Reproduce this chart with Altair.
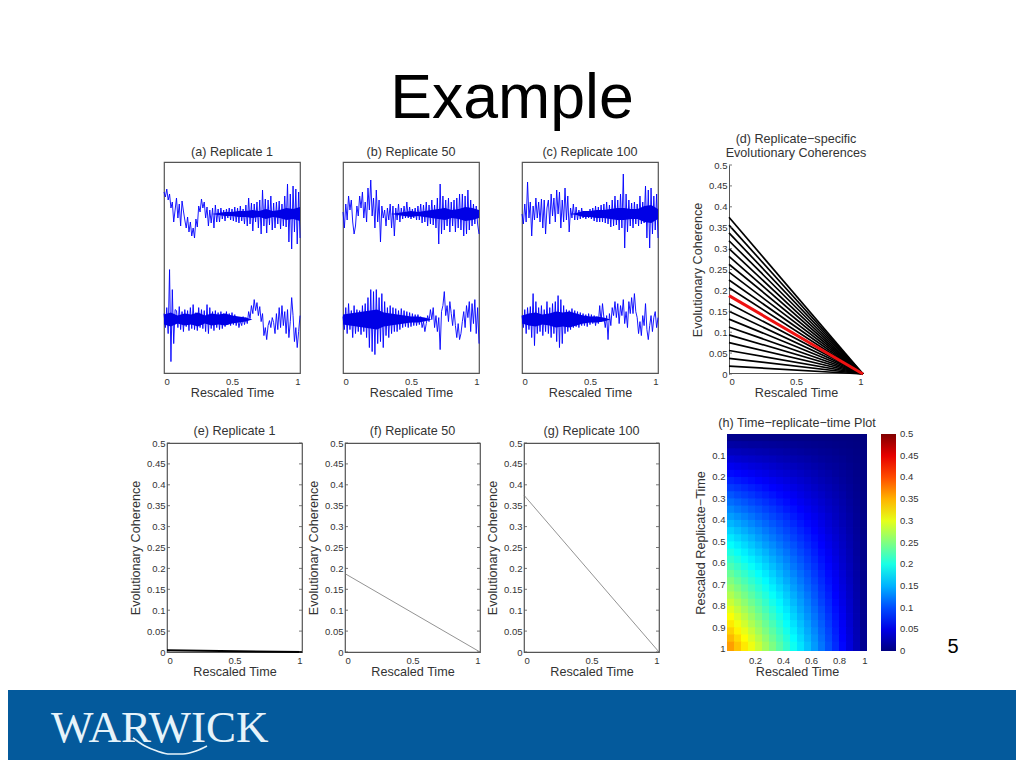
import altair as alt
import pandas as pd

FONT = "Liberation Sans"
TXT = "#333333"
FS = 12.6
TS = 9.5

a_top = [22,17,25,14,20,6,12,-8,4,
 16,-4,10,-12,13,3,-6,-14,-3,-18,
 -8,-22,-14,-24,-5,-13,8,2,15,6,
 12,-4,7,-12,4,-9,6,-14,9,-8,
 5,-8,6,-5,4,-7,5,-4,6,-6,
 5,-7,7,-8,6,-9,8,-7,5,-10,
 9,-12,16,-10,11,-17,10,-8,12,-14,
 14,-20,24,-12,15,-19,14,-11,18,-16,
 11,-14,12,-10,13,-15,10,-12,18,-13,
 30,-28,20,-35,28,-18,25,-30,22,-24]
a_bot = [6,-8,12,-14,50,-42,30,-24,10,
 9,-8,13,-10,8,-12,10,-7,9,-11,
 12,-9,15,-10,7,-11,12,-8,10,-9,
 9,-12,15,-14,12,-9,8,-11,9,-8,
 7,-10,8,-9,6,-7,8,-5,6,-6,
 7,-5,5,-6,2,-8,-1,-6,3,-5,
 2,-4,8,1,14,6,20,9,17,4,
 13,-2,6,-16,-8,-20,-6,-1,-8,2,
 -3,-14,6,-10,12,-8,14,-6,8,-14,
 10,-18,-2,22,4,-22,-8,-28,-12,4]
b_top = [2,-14,10,-6,18,4,14,-8,-20,
 -12,8,-2,18,6,22,-4,12,-8,26,
 4,34,-2,16,-14,24,-8,14,-28,8,
 -4,4,-12,6,-6,10,-14,8,-22,6,
 -6,10,-8,6,-5,8,-4,12,-4,7,
 -5,5,-4,6,-6,8,-6,10,-9,9,
 -8,12,-12,9,-10,14,-11,9,-14,16,
 -30,30,-20,18,-16,14,-12,16,-18,12,
 -12,14,-18,16,-14,20,-16,20,-22,18,
 -20,24,-16,14,-12,10,-10,8,-10,-20]
b_bot = [3,-10,12,-14,16,-10,9,-18,14,
 -14,10,-12,9,-15,14,-12,16,-18,22,
 -28,30,-32,28,-35,30,-24,22,-22,26,
 -28,18,-16,12,-18,14,-14,12,-12,11,
 -12,9,-10,11,-8,9,-7,8,-8,7,
 -7,6,-6,5,-6,5,-5,3,-8,-2,
 -12,-4,4,-2,10,0,12,-8,4,-12,
 2,-30,8,14,28,4,14,-2,18,6,
 -6,10,-6,-18,-4,-20,-14,-2,8,-8,
 14,2,18,-12,16,-4,20,-14,12,-24]
c_top = [0,-10,10,-8,32,-4,12,-22,8,
 -6,16,-4,12,-8,15,-14,14,-20,6,
 14,-10,20,-2,16,-8,24,0,22,-14,
 14,-8,26,-6,18,-18,6,-4,10,-6,
 7,-6,4,-5,6,-4,3,-5,3,-4,
 5,-5,6,-7,8,-8,7,-8,9,-8,
 10,-9,12,-10,9,-13,14,-12,18,-11,
 14,-16,20,-14,40,-34,20,-18,14,-12,
 11,-14,12,-10,10,-12,18,-10,12,-9,
 28,-24,24,-34,26,-20,18,-16,20,-24]
c_bot = [4,-8,10,-14,12,-10,13,-18,26,
 -26,18,-14,12,-12,14,-16,10,-12,18,
 -14,12,-18,16,-14,18,-22,24,-28,20,
 -24,14,-14,10,-12,9,-10,11,-8,9,
 -7,8,-8,7,-6,6,-6,5,-7,6,
 -5,5,-4,4,-6,3,-4,14,-2,16,
 2,-8,4,-20,6,-6,12,4,18,2,
 16,-4,14,4,20,-4,8,-8,18,6,
 22,6,26,8,2,-14,-2,-16,4,-6,
 16,-10,-20,-6,4,-12,2,8,-8,2]

# half-width of the solid core of each trace at t = 0, 0.05, ... 1
core_t = [0,.05,.1,.15,.2,.25,.3,.35,.4,.45,.5,.55,.6,.65,.7,.75,.8,.85,.9,.95,1]
a_top_core = [0,0,0,0,0,0,0,0,1,2,2,3,3,4,3,5,3,4,6,5,7]
a_bot_core = [5,7,4,6,5,7,4,6,5,6,4,3,2,0,0,0,0,0,0,0,0]
b_top_core = [0,0,0,0,0,0,0,0,1,2,3,2,3,4,5,6,4,5,7,6,4]
b_bot_core = [5,6,7,8,9,10,7,6,5,4,3,3,2,0,0,0,0,0,0,0,0]
c_top_core = [0,0,0,0,0,0,0,0,1,3,3,4,4,5,6,6,5,5,8,9,5]
c_bot_core = [4,6,7,5,6,8,7,8,6,4,3,3,2,0,0,0,0,0,0,0,0]

coh_ticks = [0,0.05,0.1,0.15,0.2,0.25,0.3,0.35,0.4,0.45,0.5]
time_ticks = [0,0.5,1]
rep_ticks = [0.1,0.2,0.3,0.4,0.5,0.6,0.7,0.8,0.9,1]
heat_time_ticks = [0.2,0.4,0.6,0.8,1]
start_black = [0.01875,0.0375,0.05625,0.075,0.09375,0.1125,0.13125,0.15,0.16875,
               0.20625,0.225,0.24375,0.2625,0.28125,0.3,0.31875,0.3375,0.35625,0.375]
start_red = 0.1875
start_e, start_f, start_g = 0.004, 0.1875, 0.375

t_edges = [0,.05,.1,.15,.2,.25,.3,.35,.4,.45,.5,.55,.6,.65,.7,.75,.8,.85,.9,.95,1]
r_edges = [0,.0333,.0667,.1,.1333,.1667,.2,.2333,.2667,.3,.3333,.3667,.4,.4333,.4667,.5,
           .5333,.5667,.6,.6333,.6667,.7,.7333,.7667,.8,.8333,.8667,.9,.9333,.9667,1.01]
heat = [
[.006,.006,.005,.005,.005,.005,.004,.004,.004,.003,.003,.003,.002,.002,.002,.001,.001,.001,.000,.000],
[.018,.017,.016,.015,.015,.014,.013,.012,.011,.010,.009,.008,.007,.006,.005,.004,.003,.002,.001,.000],
[.030,.029,.027,.026,.024,.023,.021,.020,.018,.016,.015,.013,.012,.010,.009,.007,.005,.004,.002,.001],
[.043,.040,.038,.036,.034,.032,.030,.027,.025,.023,.021,.019,.016,.014,.012,.010,.008,.005,.003,.001],
[.055,.052,.049,.046,.044,.041,.038,.035,.032,.030,.027,.024,.021,.018,.015,.013,.010,.007,.004,.001],
[.067,.064,.060,.057,.053,.050,.046,.043,.040,.036,.033,.029,.026,.022,.019,.015,.012,.009,.005,.002],
[.079,.075,.071,.067,.063,.059,.055,.051,.047,.043,.039,.035,.030,.026,.022,.018,.014,.010,.006,.002],
[.091,.087,.082,.077,.073,.068,.063,.059,.054,.049,.045,.040,.035,.030,.026,.021,.016,.012,.007,.002],
[.104,.098,.093,.088,.082,.077,.072,.066,.061,.056,.050,.045,.040,.035,.029,.024,.019,.013,.008,.003],
[.116,.110,.104,.098,.092,.086,.080,.074,.068,.062,.056,.050,.045,.039,.033,.027,.021,.015,.009,.003],
[.128,.121,.115,.108,.102,.095,.089,.082,.075,.069,.062,.056,.049,.043,.036,.030,.023,.016,.010,.003],
[.140,.133,.126,.119,.111,.104,.097,.090,.083,.075,.068,.061,.054,.047,.040,.032,.025,.018,.011,.004],
[.152,.145,.137,.129,.121,.113,.105,.098,.090,.082,.074,.066,.059,.051,.043,.035,.027,.020,.012,.004],
[.165,.156,.148,.139,.131,.122,.114,.105,.097,.089,.080,.072,.063,.055,.046,.038,.030,.021,.013,.004],
[.177,.168,.159,.150,.140,.131,.122,.113,.104,.095,.086,.077,.068,.059,.050,.041,.032,.023,.014,.005],
[.189,.179,.170,.160,.150,.140,.131,.121,.111,.102,.092,.082,.073,.063,.053,.044,.034,.024,.015,.005],
[.201,.191,.180,.170,.160,.150,.139,.129,.119,.108,.098,.088,.077,.067,.057,.046,.036,.026,.015,.005],
[.213,.202,.191,.180,.170,.159,.148,.137,.126,.115,.104,.093,.082,.071,.060,.049,.038,.027,.016,.005],
[.225,.214,.202,.191,.179,.168,.156,.145,.133,.121,.110,.098,.087,.075,.064,.052,.040,.029,.017,.006],
[.238,.225,.213,.201,.189,.177,.165,.152,.140,.128,.116,.104,.091,.079,.067,.055,.043,.030,.018,.006],
[.250,.237,.224,.211,.199,.186,.173,.160,.147,.135,.122,.109,.096,.083,.070,.058,.045,.032,.019,.006],
[.262,.249,.235,.222,.208,.195,.181,.168,.155,.141,.128,.114,.101,.087,.074,.060,.047,.034,.020,.007],
[.274,.260,.246,.232,.218,.204,.190,.176,.162,.148,.134,.120,.105,.091,.077,.063,.049,.035,.021,.007],
[.286,.272,.257,.242,.228,.213,.198,.184,.169,.154,.140,.125,.110,.095,.081,.066,.051,.037,.022,.007],
[.299,.283,.268,.253,.237,.222,.207,.191,.176,.161,.145,.130,.115,.100,.084,.069,.054,.038,.023,.008],
[.311,.295,.279,.263,.247,.231,.215,.199,.183,.167,.151,.135,.120,.104,.088,.072,.056,.040,.024,.008],
[.323,.306,.290,.273,.257,.240,.224,.207,.190,.174,.157,.141,.124,.108,.091,.075,.058,.041,.025,.008],
[.335,.318,.301,.284,.266,.249,.232,.215,.198,.180,.163,.146,.129,.112,.095,.077,.060,.043,.026,.009],
[.347,.330,.312,.294,.276,.258,.240,.223,.205,.187,.169,.151,.134,.116,.098,.080,.062,.045,.027,.009],
[.360,.341,.323,.304,.286,.267,.249,.230,.212,.194,.175,.157,.138,.120,.101,.083,.065,.046,.028,.009],
]
jet_domain = [0,0.0625,0.1875,0.3125,0.4375,0.5]
jet_range = ["#000080","#0000ff","#00ffff","#ffff00","#ff0000","#800000"]

swoosh_x = [133,145,157,170,183,196,207]
swoosh_y = [738,746,751,754,754,751,746]

W, H = 136, 211
W2, H2 = 135, 209
BOX = "#555555"


def t_axis(values=time_ticks, pad=1):
    return alt.Axis(values=values, format="~g", title="Rescaled Time", grid=False, ticks=False,
                    domain=False, labelFontSize=TS, labelColor=TXT, labelPadding=3, labelFont=FONT,
                    titleFont=FONT, titleFontSize=FS, titleFontWeight="normal", titleColor=TXT,
                    titlePadding=pad, labelOverlap=False)


def y_axis(title, values, pad=4, domain=False):
    return alt.Axis(values=values, format="~g", title=title, grid=False, ticks=False, domain=domain,
                    domainColor=BOX, labelFontSize=TS, labelColor=TXT, labelPadding=2, labelFont=FONT,
                    titleFont=FONT, titleFontSize=FS, titleFontWeight="normal", titleColor=TXT,
                    titlePadding=pad, labelOverlap=False)


def ttl(text, offset):
    return alt.TitleParams(text=text, font=FONT, fontSize=FS, fontWeight="normal", color=TXT,
                           anchor="middle", offset=offset)


def spacer(w, h=1):
    return alt.Chart(pd.DataFrame({"s": [""]})).mark_text().encode(
        text="s:N", x=alt.value(0), y=alt.value(0)).properties(width=w, height=h)


def noise_panel(title, top, bot, top_core, bot_core):
    rows, core = [], []
    for name, vals, off, cr in (("top", top, 159.0, top_core), ("bot", bot, 53.4, bot_core)):
        n = len(vals)
        for i, v in enumerate(vals):
            rows.append({"t": i / (n - 1), "v": off + v, "s": name})
        for tt, c in zip(core_t, cr):
            core.append({"t": tt, "lo": off - c, "hi": off + c, "s": name})
    xs = alt.Scale(domain=[0, 1], nice=False)
    ys = alt.Scale(domain=[0, 211], nice=False)
    line = alt.Chart(pd.DataFrame(rows)).mark_line(color="#0000ff", strokeWidth=0.9).encode(
        x=alt.X("t:Q", scale=xs, axis=t_axis()), y=alt.Y("v:Q", scale=ys, axis=None), detail="s:N")
    area = alt.Chart(pd.DataFrame(core)).mark_area(color="#0000e6").encode(
        x=alt.X("t:Q", scale=xs, axis=t_axis()), y=alt.Y("lo:Q", scale=ys, axis=None), y2="hi:Q", detail="s:N")
    return alt.layer(line, area).properties(
        width=W, height=H, title=ttl(title, 3), view=alt.ViewBackground(stroke=BOX, strokeWidth=1.2))


def coh_ticks_layers(scale, axis, right=True):
    df = pd.DataFrame({"v": coh_ticks})
    l = [alt.Chart(df).mark_rule(color=BOX, strokeWidth=0.8).encode(
        y=alt.Y("v:Q", scale=scale, axis=axis), x=alt.value(0), x2=alt.value(3))]
    if right:
        l.append(alt.Chart(df).mark_rule(color=BOX, strokeWidth=0.8).encode(
            y=alt.Y("v:Q", scale=scale, axis=axis), x=alt.value(W2 - 3), x2=alt.value(W2)))
    return l


def line_panel(title, start, color, width):
    scale = alt.Scale(domain=[0, 0.5], nice=False)
    ax = y_axis("Evolutionary Coherence", coh_ticks)
    df = pd.DataFrame({"t": [0, 1], "v": [start, 0]})
    line = alt.Chart(df).mark_line(color=color, strokeWidth=width).encode(
        x=alt.X("t:Q", scale=alt.Scale(domain=[0, 1], nice=False), axis=t_axis()),
        y=alt.Y("v:Q", scale=scale, axis=ax),
    )
    return alt.layer(line, *coh_ticks_layers(scale, ax)).properties(
        width=W2, height=H2, title=ttl(title, 0), view=alt.ViewBackground(stroke=BOX, strokeWidth=1.2))


def fan_panel():
    yscale = alt.Scale(domain=[0, 0.5], nice=False, range=[212, 3])
    xscale = alt.Scale(domain=[0, 1], nice=False)
    ax = y_axis("Evolutionary Coherence", coh_ticks, 4, True)
    xax = alt.Axis(values=time_ticks, format="~g", title="Rescaled Time",
                   grid=False, ticks=False, domain=True, domainColor=BOX, labelFontSize=TS, labelColor=TXT,
                   labelPadding=3, labelFont=FONT, titleFont=FONT, titleFontSize=FS, titleFontWeight="normal",
                   titleColor=TXT, titlePadding=1, labelOverlap=False)
    rows = []
    for i, s in enumerate(start_black):
        rows += [{"t": 0, "v": s, "k": i}, {"t": 1, "v": 0, "k": i}]
    black = alt.Chart(pd.DataFrame(rows)).mark_line(color="black", strokeWidth=1.7).encode(
        x=alt.X("t:Q", scale=xscale, axis=xax),
        y=alt.Y("v:Q", scale=yscale, axis=ax),
        detail="k:N",
    )
    red = alt.Chart(pd.DataFrame({"t": [0, 1], "v": [start_red, 0]})).mark_line(color="#ee1111", strokeWidth=3).encode(
        x=alt.X("t:Q", scale=xscale, axis=xax), y=alt.Y("v:Q", scale=yscale, axis=ax))
    return alt.layer(black, red, *coh_ticks_layers(yscale, ax, right=False)).properties(
        width=134, height=H,
        title=alt.TitleParams(text=["(d) Replicate\u2212specific", "Evolutionary Coherences"], font=FONT,
                              fontSize=FS, fontWeight="normal", color=TXT, anchor="middle", offset=0, lineHeight=14))


def bar_end_label(text, y):
    return alt.Chart(pd.DataFrame({"s": [text]})).mark_text(
        font=FONT, fontSize=TS, color=TXT, align="left", baseline="middle").encode(
        text="s:N", x=alt.value(173), y=alt.value(y))


def heat_panel():
    rows = []
    for i, row in enumerate(heat):
        for j, v in enumerate(row):
            rows.append({"t0": t_edges[j], "t1": min(t_edges[j + 1] + 0.006, 1),
                         "r0": r_edges[i], "r1": min(r_edges[i + 1] + 0.004, 1.01), "v": v})
    cs = alt.Scale(domain=jet_domain, range=jet_range, interpolate="rgb")
    rects = alt.Chart(pd.DataFrame(rows)).mark_rect().encode(
        x=alt.X("t0:Q", scale=alt.Scale(domain=[0, 1], nice=False), axis=t_axis(heat_time_ticks, 1)),
        x2="t1:Q",
        y=alt.Y("r0:Q", scale=alt.Scale(domain=[0, 1.01], nice=False, range=[-9, 208]),
                axis=y_axis("Rescaled Replicate\u2212Time", rep_ticks, 4)),
        y2="r1:Q",
        color=alt.Color("v:Q", scale=cs, title=None, legend=alt.Legend(
            orient="none", legendX=873, legendY=426, direction="vertical", gradientLength=217,
            gradientThickness=15, values=coh_ticks,
            labelExpr="datum.value == 0 || datum.value == 0.5 ? '' : format(datum.value, '.2~f')",
            labelFontSize=TS, labelColor=TXT, labelFont=FONT, labelOverlap=False, labelOffset=4,
            gradientStrokeWidth=0)),
    )
    page_no = alt.Chart(pd.DataFrame({"s": ["5"]})).mark_text(
        font=FONT, fontSize=20, color="black", align="center", baseline="middle").encode(
        text="s:N", x=alt.value(226), y=alt.value(204))
    return alt.layer(rects, page_no, bar_end_label("0.5", -9), bar_end_label("0", 208)).properties(
        width=140, height=H2,
        title=alt.TitleParams(text="(h) Time\u2212replicate\u2212time Plot", font=FONT, fontSize=FS,
                              fontWeight="normal", color=TXT, anchor="middle", offset=-1))


header = alt.Chart(pd.DataFrame({"s": ["Example"]})).mark_text(
    font=FONT, fontSize=62.6, color="black", align="center", baseline="alphabetic").encode(
    text="s:N", x=alt.value(504), y=alt.value(110)).properties(width=1008, height=125)

footer_text = alt.Chart(pd.DataFrame({"s": ["WARWICK"]})).mark_text(
    font="Liberation Serif", fontSize=45, color="#e6f3fa", align="left", baseline="alphabetic").encode(
    text="s:N", x=alt.value(43), y=alt.value(52))
footer_sw = alt.Chart(pd.DataFrame({"x": swoosh_x, "y": swoosh_y})).mark_line(
    color="#e6f3fa", strokeWidth=1.6, interpolate="monotone").encode(
    x=alt.X("x:Q", scale=alt.Scale(domain=[8, 1016], nice=False), axis=None),
    y=alt.Y("y:Q", scale=alt.Scale(domain=[690, 760], range=[0, 70], nice=False), axis=None))
footer = alt.layer(footer_sw, footer_text).properties(
    width=1008, height=70, view=alt.ViewBackground(fill="#045a9c", stroke=None))

flush = dict(bounds="flush", spacing=0)
row1 = alt.hconcat(spacer(156, H), noise_panel("(a) Replicate 1", a_top, a_bot, a_top_core, a_bot_core), spacer(43),
                   noise_panel("(b) Replicate 50", b_top, b_bot, b_top_core, b_bot_core), spacer(43),
                   noise_panel("(c) Replicate 100", c_top, c_bot, c_top_core, c_bot_core), spacer(71), fan_panel(), **flush)
row2 = alt.hconcat(spacer(159, H2), line_panel("(e) Replicate 1", start_e, "black", 2), spacer(43),
                   line_panel("(f) Replicate 50", start_f, "#777777", 0.8), spacer(44),
                   line_panel("(g) Replicate 100", start_g, "#777777", 0.8), spacer(68), heat_panel(), **flush)

chart = alt.vconcat(header, row1, spacer(1008, 11), row2, spacer(1008, 5), footer, bounds="full", spacing=0).properties(
    padding=0, background="white",
).configure_view(stroke=None)

chart.save("out.html", embed_options={"renderer": "svg", "actions": False})
